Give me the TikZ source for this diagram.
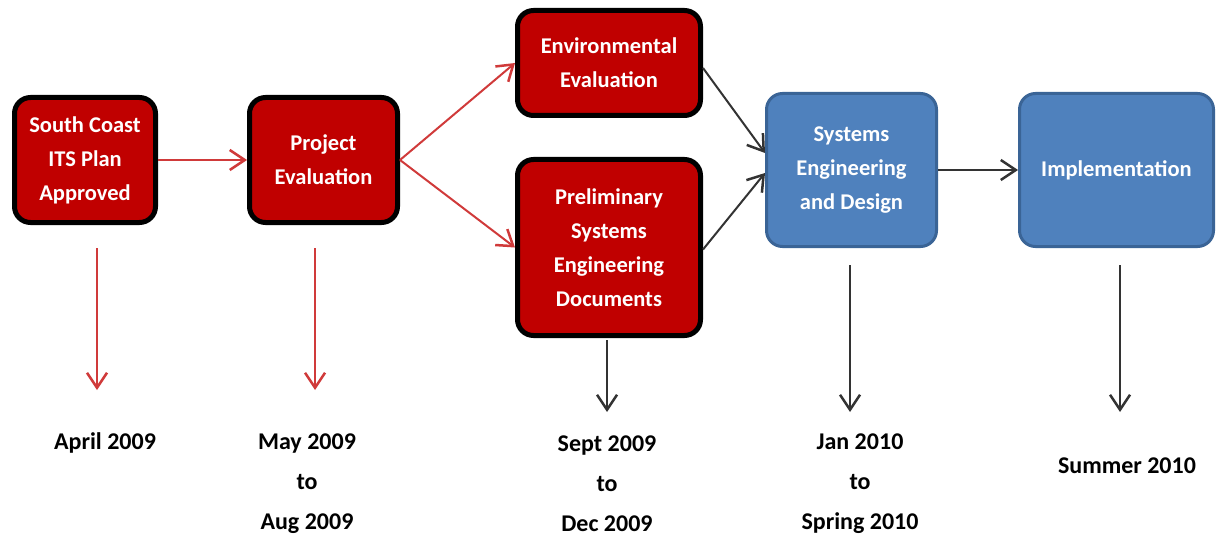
\documentclass[tikz,border=0pt]{standalone}
\usepackage{fontspec}
\setmainfont{Carlito}
\usetikzlibrary{arrows.meta}
\definecolor{boxred}{HTML}{C00000}
\definecolor{arrred}{HTML}{D03A3A}
\definecolor{boxblue}{HTML}{4F81BD}
\definecolor{blueedge}{HTML}{3A6496}
\definecolor{arrgray}{HTML}{333333}
\tikzset{
  redbox/.style={draw=black, line width=5pt, fill=boxred, rounded corners=16pt, text=white,
    font=\bfseries\fontsize{22.5}{34}\selectfont, align=center, inner sep=0pt},
  bluebox/.style={draw=blueedge, line width=3pt, fill=boxblue, rounded corners=16pt, text=white,
    font=\bfseries\fontsize{22.5}{34}\selectfont, align=center, inner sep=0pt},
  datelbl/.style={font=\bfseries\fontsize{24}{40}\selectfont, align=center, text=black, inner sep=0pt},
  redarr/.style={draw=arrred, line width=2pt, -{Straight Barb[length=15pt,width=20pt,line width=2.5pt]}},
  grayarr/.style={draw=arrgray, line width=2pt, -{Straight Barb[length=15pt,width=20pt,line width=2.5pt]}}
}
\begin{document}
\begin{tikzpicture}[x=1pt,y=-1pt]
\useasboundingbox (0,0) rectangle (1217,540);
\node[redbox, minimum width=141pt, minimum height=125pt] (b1) at (85,160) {South Coast\\ITS Plan\\Approved};
\node[redbox, minimum width=148pt, minimum height=125pt] (b2) at (323.5,160) {Project\\Evaluation};
\node[redbox, minimum width=183pt, minimum height=105pt] (b3) at (609,63) {Environmental\\Evaluation};
\node[redbox, minimum width=183pt, minimum height=176pt] (b4) at (609,247.5) {Preliminary\\Systems\\Engineering\\Documents};
\node[bluebox, minimum width=170pt, minimum height=153pt] (b5) at (851.5,170) {Systems\\Engineering\\and Design};
\node[bluebox, minimum width=194pt, minimum height=153pt] (b6) at (1116.5,170) {Implementation};

\draw[redarr] (b1.east) -- (b2.west);
\draw[redarr] (b2.east) -- (b3.west);
\draw[redarr] (b2.east) -- (b4.west);
\draw[grayarr] ([yshift=-5pt]b3.east) -- ([yshift=17pt]b5.west);
\draw[grayarr] ([yshift=-2pt]b4.east) -- ([yshift=-3pt]b5.west);
\draw[grayarr] (b5.east) -- (b6.west);

\node[datelbl] (d1) at (105,443) {April 2009};
\node[datelbl] (d2) at (307,484) {May 2009\\to\\Aug 2009};
\node[datelbl] (d3) at (607,484) {Sept 2009\\to\\Dec 2009};
\node[datelbl] (d4) at (860,484) {Jan 2010\\to\\Spring 2010};
\node[datelbl] (d5) at (1127,466) {Summer 2010};

\coordinate (s1) at (97,248);  \coordinate (e1) at (97,390);
\coordinate (s2) at (315,248); \coordinate (e2) at (315,390);
\coordinate (s3) at (607,340); \coordinate (e3) at (607,412);
\coordinate (s4) at (850,265); \coordinate (e4) at (850,412);
\coordinate (s5) at (1120,265); \coordinate (e5) at (1120,412);
\draw[redarr] (s1) -- (e1);
\draw[redarr] (s2) -- (e2);
\draw[grayarr] (s3) -- (e3);
\draw[grayarr] (s4) -- (e4);
\draw[grayarr] (s5) -- (e5);
\end{tikzpicture}
\end{document}
